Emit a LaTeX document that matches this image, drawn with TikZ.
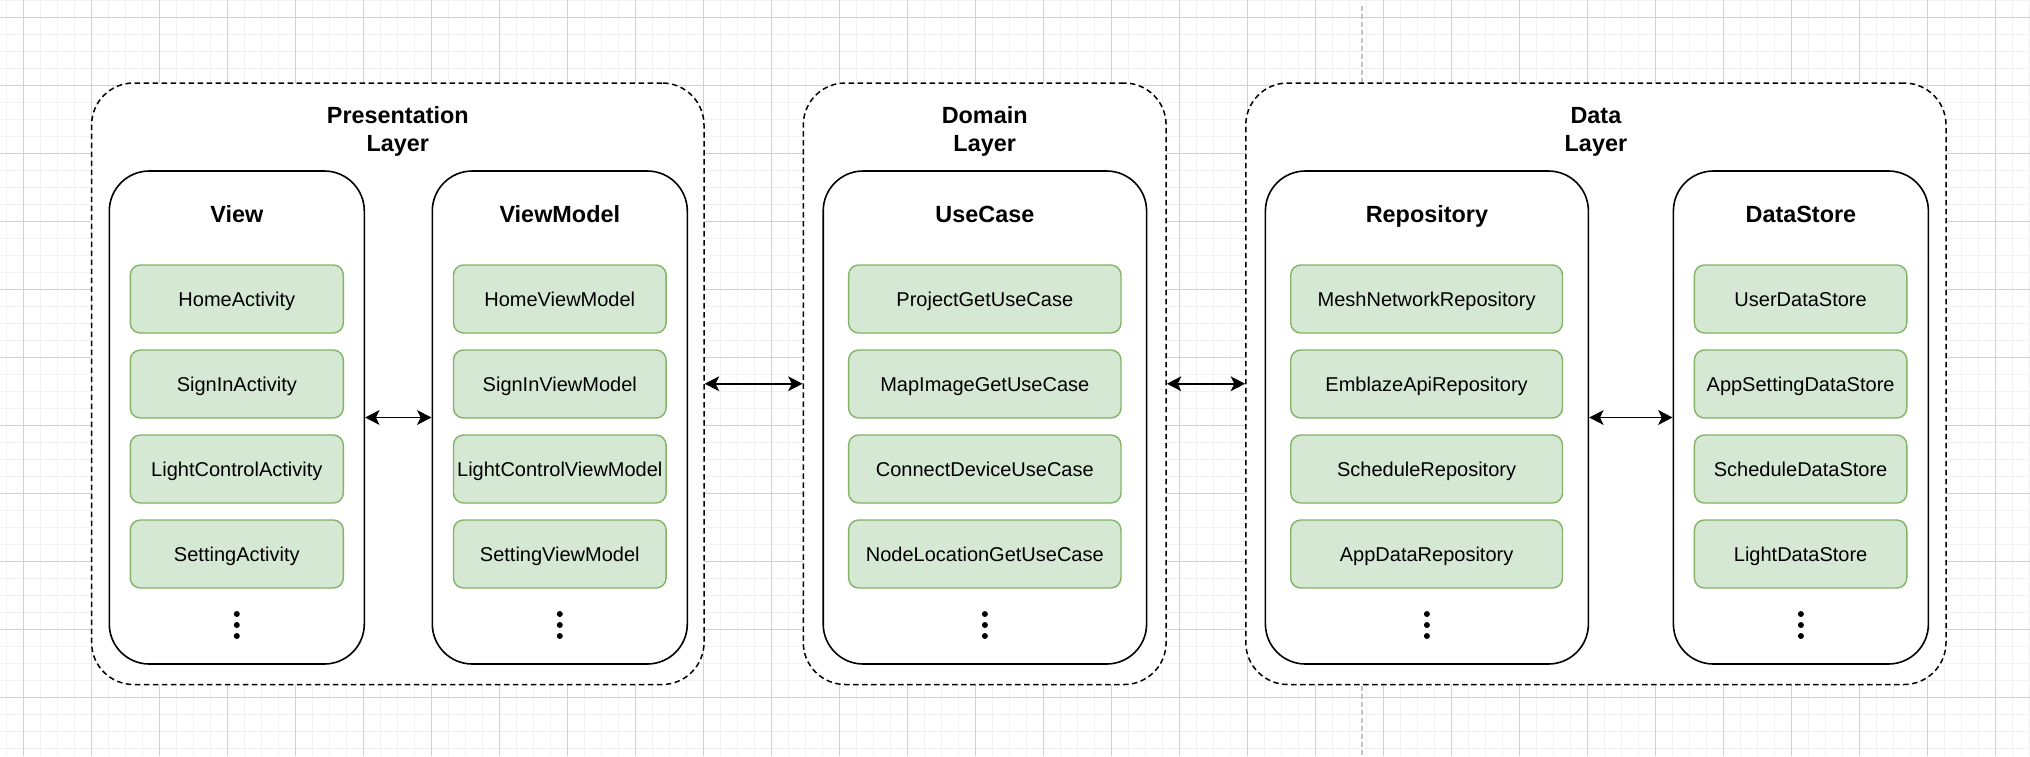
\documentclass[tikz,border=0pt]{standalone}
\usepackage{fontspec}
\setmainfont{Liberation Sans}
\usetikzlibrary{arrows.meta}
\definecolor{itemfill}{HTML}{D5E8D4}
\definecolor{itemdraw}{HTML}{82B366}
\definecolor{gridminor}{HTML}{F1F1F1}
\definecolor{gridmajor}{HTML}{D0D0D0}
\definecolor{guide}{HTML}{C4C4C4}
\begin{document}
\begin{tikzpicture}[x=0.5pt,y=-0.5pt,
  layerbox/.style={draw=black, fill=white, dash pattern=on 2.75pt off 1.75pt, line width=0.75pt,
    rounded corners=21pt, minimum height=300.75pt, inner sep=0pt},
  groupbox/.style={draw=black, fill=white, line width=0.8pt, rounded corners=20pt,
    minimum height=246.5pt, inner sep=0pt},
  itembox/.style={draw=itemdraw, fill=itemfill, line width=0.7pt, rounded corners=5pt,
    minimum height=34pt, inner sep=0pt, text height=7.2pt, text depth=0pt,
    font=\fontsize{10}{12}\selectfont},
  layertitle/.style={font=\bfseries\fontsize{11.7}{14.1}\selectfont, align=center, inner sep=0pt},
  grouptitle/.style={font=\bfseries\fontsize{11.7}{14}\selectfont, inner sep=0pt,
    text height=8.4pt, text depth=0pt},
  link/.style={line width=0.75pt, {Stealth[length=7.2pt,width=7.4pt,inset=1.8pt]}-{Stealth[length=7.2pt,width=7.4pt,inset=1.8pt]}}
]
\useasboundingbox (0,0) rectangle (2030,756);
\fill[white] (0,0) rectangle (2030,756);
\begin{scope}
\clip (0,0) rectangle (2030,756);
\foreach \i in {0,...,119} \draw[gridminor, line width=0.8pt] ({6.3+17*\i},0) -- ++(0,756);
\foreach \i in {0,...,44} \draw[gridminor, line width=0.8pt] (0,{0.3+17*\i}) -- ++(2030,0);
\foreach \i in {0,...,29} \draw[gridmajor, line width=0.5pt] ({23.3+68*\i},0) -- ++(0,756);
\foreach \i in {0,...,10} \draw[gridmajor, line width=0.5pt] (0,{17.3+68*\i}) -- ++(2030,0);
\draw[guide, line width=1pt, dash pattern=on 2.5pt off 1.5pt] (1362,6) -- (1362,756);
\end{scope}

% layers
\node[layerbox, minimum width=306.2pt] (pres) at (397.8,383.75) {};
\node[layerbox, minimum width=181.4pt] (dom) at (984.7,383.75) {};
\node[layerbox, minimum width=350.1pt] (data) at (1595.9,383.75) {};
\node[layertitle] (presT) at (397.8,131.5) {Presentation\\Layer};
\node[layertitle] (domT) at (984.7,131.5) {Domain\\Layer};
\node[layertitle] (dataT) at (1595.9,131.5) {Data\\Layer};

% groups
\node[groupbox, minimum width=127.5pt] (view) at (236.8,417.5) {};
\node[groupbox, minimum width=127.5pt] (vm) at (559.8,417.5) {};
\node[groupbox, minimum width=161.7pt] (uc) at (984.9,417.5) {};
\node[groupbox, minimum width=161.5pt] (repo) at (1426.9,417.5) {};
\node[groupbox, minimum width=127.5pt] (ds) at (1800.9,417.5) {};
\node[grouptitle] (viewT) at (236.8,214) {View};
\node[grouptitle] (vmT) at (559.8,214) {ViewModel};
\node[grouptitle] (ucT) at (984.9,214) {UseCase};
\node[grouptitle] (repoT) at (1426.9,214) {Repository};
\node[grouptitle] (dsT) at (1800.9,214) {DataStore};

% items
\foreach \t [count=\i from 0] in {HomeActivity,SignInActivity,LightControlActivity,SettingActivity}
  \node[itembox, minimum width=106.5pt] (v\i) at (236.8,{299+85*\i}) {\t};
\foreach \t [count=\i from 0] in {HomeViewModel,SignInViewModel,LightControlViewModel,SettingViewModel}
  \node[itembox, minimum width=106.3pt] (m\i) at (559.8,{299+85*\i}) {\t};
\foreach \t [count=\i from 0] in {ProjectGetUseCase,MapImageGetUseCase,ConnectDeviceUseCase,NodeLocationGetUseCase}
  \node[itembox, minimum width=136.2pt] (u\i) at (984.8,{299+85*\i}) {\t};
\foreach \t [count=\i from 0] in {MeshNetworkRepository,EmblazeApiRepository,ScheduleRepository,AppDataRepository}
  \node[itembox, minimum width=135.9pt] (r\i) at (1426.6,{299+85*\i}) {\t};
\foreach \t [count=\i from 0] in {UserDataStore,AppSettingDataStore,ScheduleDataStore,LightDataStore}
  \node[itembox, minimum width=106.2pt] (s\i) at (1800.6,{299+85*\i}) {\t};

% dots
\foreach \x in {236.8,559.8,984.9,1426.9,1800.9}
  \foreach \y in {614,625,636}
    \fill (\x,\y) circle[radius=1.5pt];

% connectors
\draw[link] (view.east) -- (vm.west);
\draw[link] (pres.east) -- (dom.west);
\draw[link] (dom.east) -- (data.west);
\draw[link] (repo.east) -- (ds.west);
\end{tikzpicture}
\end{document}
